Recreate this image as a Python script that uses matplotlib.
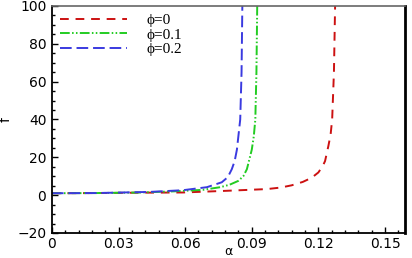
import matplotlib
matplotlib.use("Agg")
import matplotlib.pyplot as plt
from matplotlib.ticker import MultipleLocator

# values
alpha_phi0 = [0, 0.02, 0.04, 0.059, 0.0788, 0.0968, 0.103, 0.108, 0.113, 0.117, 0.120, 0.122,
              0.123, 0.1245, 0.1255, 0.1262, 0.127, 0.1276]
f_phi0 = [1, 1.1, 1.3, 1.4, 2.3, 3.2, 4, 5.2, 7, 9.2, 12, 15.5, 18, 26, 32, 40, 65, 105]

alpha_phi01 = [0, 0.02, 0.04, 0.055, 0.068, 0.0758, 0.080, 0.0839, 0.0862, 0.0878, 0.090,
               0.0909, 0.0916, 0.0921, 0.0925]
f_phi01 = [1, 1.1, 1.4, 2.0, 2.8, 4.2, 5.5, 7.5, 10, 13.7, 24, 31, 40, 65, 105]

alpha_phi02 = [0, 0.02, 0.044, 0.059, 0.0698, 0.0765, 0.0792, 0.081, 0.0823, 0.0833, 0.0848,
               0.0854, 0.0858]
f_phi02 = [1, 1.1, 1.7, 2.6, 4.2, 6.8, 9.5, 13.7, 18, 24, 40, 65, 105]

labels = ["\u03d5=0", "\u03d5=0.1", "\u03d5=0.2"]
x_ticks = [0, 0.03, 0.06, 0.09, 0.12, 0.15]
y_ticks = [-20, 0, 20, 40, 60, 80, 100]

fig = plt.figure(figsize=(4.12, 2.58), dpi=100)
ax = fig.add_axes([0.126, 0.097, 0.857, 0.880])

ax.plot(alpha_phi0, f_phi0, color="#cc1111", lw=1.4, dashes=(4.5, 3.5), label=labels[0])
ax.plot(alpha_phi01, f_phi01, color="#22cc22", lw=1.4,
        dashes=(5, 1.2, 0.8, 1.2, 0.8, 1.2), label=labels[1])
ax.plot(alpha_phi02, f_phi02, color="#3a3ae0", lw=1.4, dashes=(6, 2.5), label=labels[2])

ax.set_xlim(0, 0.159)
ax.set_ylim(-20, 100)
ax.set_xticks(x_ticks)
ax.set_xticklabels(["0", "0.03", "0.06", "0.09", "0.12", "0.15"])
ax.set_yticks(y_ticks)
ax.xaxis.set_minor_locator(MultipleLocator(0.006))
ax.yaxis.set_minor_locator(MultipleLocator(5))
ax.tick_params(which="both", direction="in", top=False, right=False, labelsize=10)
ax.tick_params(which="major", length=4, width=1)
ax.tick_params(which="minor", length=2, width=1)
ax.tick_params(axis="x", pad=3)
ax.tick_params(axis="y", pad=4)

for side in ["left", "bottom"]:
    ax.spines[side].set_linewidth(1.3)
ax.spines["right"].set_linewidth(2)
ax.spines["top"].set_color("#666666")
ax.spines["top"].set_linewidth(1.2)

ax.set_xlabel("\u03b1", fontsize=9)
ax.xaxis.set_label_coords(0.5, -0.052)
ax.set_ylabel("f", fontsize=10)
ax.yaxis.set_label_coords(-0.11, 0.5)

leg = ax.legend(loc="upper left", frameon=False, handlelength=4.4, handletextpad=1.3,
                labelspacing=0.05, borderaxespad=0.1,
                prop={"family": ["Liberation Serif", "DejaVu Serif"], "size": 11})

fig.savefig("out.png", dpi=100)
